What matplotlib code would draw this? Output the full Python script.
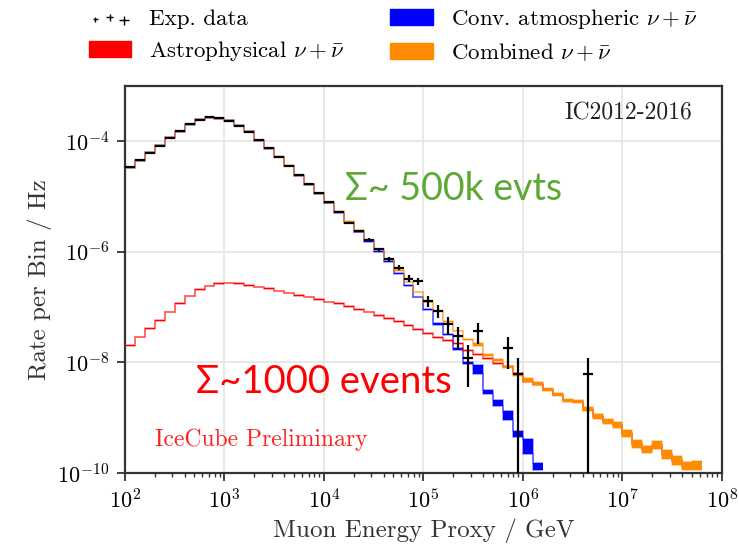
import numpy as np
import matplotlib.pyplot as plt
from matplotlib.patches import Patch
from matplotlib.legend_handler import HandlerPathCollection
from matplotlib.ticker import LogLocator, NullLocator

plt.rcParams['font.family'] = 'serif'
plt.rcParams['font.serif'] = ['cmr10']
plt.rcParams['mathtext.fontset'] = 'cm'
plt.rcParams['axes.formatter.use_mathtext'] = True

# energy proxy binning: 10 bins per decade, 1e2 .. 10^7.8 GeV
bin_edges = np.logspace(2, 7.8, 59)

livetime = 1.64e8  # s

# observed events per bin (0 = empty bin)
exp_counts = [5519, 7479, 10158, 13610, 19010, 25110, 33640, 40260, 44450, 42540,
              38620, 31320, 24420, 17250, 12190, 8607, 5914, 4007, 2753, 1866,
              1282, 881, 548, 392, 274, 183, 124, 85, 54, 48,
              21, 14, 8, 5, 2, 6, 0, 0, 3, 1,
              0, 0, 0, 0, 0, 0, 1, 0, 0, 0,
              0, 0, 0, 0, 0, 0, 0, 0]

# MC expectations, log10(rate / Hz), and half width of the band in decades
conv_log = [-4.474, -4.342, -4.209, -4.082, -3.937, -3.816, -3.689, -3.611, -3.568, -3.587,
            -3.629, -3.720, -3.828, -3.980, -4.131, -4.283, -4.447, -4.617, -4.781, -4.950,
            -5.115, -5.281, -5.470, -5.640, -5.808, -5.990, -6.180, -6.393, -6.605, -6.817,
            -7.045, -7.299, -7.493, -7.752, -8.010, -8.130, -8.531, -8.731, -8.960, -9.290,
            -9.516, -9.884]
conv_unc = [0.008] * 30 + [0.015] * 5 + [0.075, 0.035, 0.06, 0.075, 0.05, 0.14, 0.06]

astro_log = [-7.692, -7.541, -7.390, -7.239, -7.089, -6.937, -6.799, -6.683, -6.618, -6.575,
             -6.563, -6.575, -6.605, -6.636, -6.665, -6.708, -6.744, -6.786, -6.817, -6.859,
             -6.905, -6.930, -6.990, -7.045, -7.089, -7.149, -7.208, -7.257, -7.330, -7.408,
             -7.480, -7.545, -7.600, -7.660, -7.780, -7.860, -7.930, -8.020, -8.070, -8.200,
             -8.350, -8.400, -8.500, -8.590, -8.690, -8.710, -8.850, -8.975, -9.070, -9.130,
             -9.280, -9.475, -9.580, -9.500, -9.670, -9.775, -9.878, -9.866]
astro_unc = [0.006] * 58

comb_log = [-4.473, -4.341, -4.208, -4.081, -3.936, -3.815, -3.688, -3.610, -3.567, -3.586,
            -3.628, -3.719, -3.827, -3.978, -4.129, -4.280, -4.443, -4.612, -4.775, -4.944,
            -5.107, -5.270, -5.455, -5.621, -5.785, -5.960, -6.140, -6.340, -6.545, -6.726,
            -6.906, -7.070, -7.257, -7.431, -7.589, -7.680, -7.861, -7.951, -8.084, -8.217,
            -8.320, -8.386, -8.489, -8.580, -8.688, -8.707, -8.846, -8.973, -9.069, -9.129,
            -9.280, -9.475, -9.580, -9.500, -9.670, -9.775, -9.878, -9.866]
comb_unc = ([0.008] * 35 + [0.03] + [0.02] * 4 + [0.03] * 6 +
            [0.035, 0.045, 0.045, 0.05, 0.06, 0.065, 0.06, 0.07, 0.085, 0.075, 0.075, 0.085])

c_conv = '#0000ff'
c_astro = '#ff0000'
c_comb = '#ff8c00'


def draw_band(ax, lograte, halfwidth, color, z):
    mid = np.asarray(lograte)
    w = np.asarray(halfwidth)
    lo = 10 ** (mid - w)
    hi = 10 ** (mid + w)
    e = bin_edges[:len(mid) + 1]
    ax.stairs(hi, e, baseline=lo, fill=True, color=color, lw=0, zorder=z)
    ax.stairs(lo, e, baseline=None, color=color, alpha=0.45, lw=1.1, zorder=z)
    ax.stairs(hi, e, baseline=None, color=color, alpha=0.45, lw=1.1, zorder=z)


fig = plt.figure(figsize=(7.39, 5.5), dpi=100)
ax = fig.add_axes([0.169, 0.14, 0.808, 0.7036])

draw_band(ax, conv_log, conv_unc, c_conv, 2)
draw_band(ax, astro_log, astro_unc, c_astro, 3)
draw_band(ax, comb_log, comb_unc, c_comb, 4)

# data with poisson errors
counts = np.asarray(exp_counts, dtype=float)
has = counts > 0
rate = counts / livetime
err = np.sqrt(counts) / livetime
err_lo = np.minimum(err, 0.999 * rate)
centers = np.sqrt(bin_edges[:-1] * bin_edges[1:])
xlo = centers - bin_edges[:-1]
xhi = bin_edges[1:] - centers
ax.errorbar(centers[has], rate[has], xerr=[xlo[has], xhi[has]],
            yerr=[err_lo[has], err[has]], fmt='none', ecolor='k',
            elinewidth=1.6, zorder=6)

exp_handle = ax.scatter([np.nan] * 3, [np.nan] * 3, s=[20, 35, 60],
                        marker='+', c='k', linewidths=1)

ax.set_xscale('log')
ax.set_yscale('log')
ax.set_xlim(1e2, 1e8)
ax.set_ylim(1e-10, 1e-3)
ax.xaxis.set_major_locator(LogLocator(base=10, numticks=20))
ax.xaxis.set_minor_locator(LogLocator(base=10, subs=np.arange(2, 10), numticks=100))
ax.set_yticks([1e-10, 1e-8, 1e-6, 1e-4])
ax.yaxis.set_minor_locator(NullLocator())

ax.grid(True, which='major', color='#e6e6e6', lw=1.3)
ax.set_axisbelow(True)
for s in ax.spines.values():
    s.set_color('#333333')
    s.set_linewidth(1.6)
ax.tick_params(which='major', direction='out', length=6, width=1.3,
               color='#333333', labelsize=16, pad=5)
ax.tick_params(which='minor', direction='out', length=3, width=1.0, color='#333333')

ax.set_xlabel('Muon Energy Proxy / GeV', fontsize=18, color='#333333')
ax.set_ylabel('Rate per Bin / Hz', fontsize=18, color='#333333')

ax.text(0.95, 0.93, 'IC2012-2016', transform=ax.transAxes, ha='right',
        va='center', fontsize=17, color='#222222')
ax.text(0.05, 0.085, 'IceCube Preliminary', transform=ax.transAxes, ha='left',
        va='center', fontsize=17, color='#ff2222')

fig.text(345 / 739, 1 - 200 / 550, '\u03a3~ 500k evts', family='Lato',
         fontsize=27, color='#5ca935', va='baseline')
fig.text(196 / 739, 1 - 393 / 550, '\u03a3~1000 events', family='Lato',
         fontsize=27.5, color='#ff0000', va='baseline')

handles = [exp_handle,
           Patch(facecolor=c_astro, edgecolor=c_astro),
           Patch(facecolor=c_conv, edgecolor=c_conv),
           Patch(facecolor=c_comb, edgecolor=c_comb)]
labels = ['Exp. data', r'Astrophysical $\nu + \bar{\nu}$',
          r'Conv. atmospheric $\nu + \bar{\nu}$', r'Combined $\nu + \bar{\nu}$']
fig.legend(handles, labels, ncol=2, loc='upper left', bbox_to_anchor=(0.092, 1.024),
           frameon=False, fontsize=16.5, handlelength=1.85, scatterpoints=3,
           columnspacing=2.0, labelspacing=0.42, handletextpad=0.8,
           handler_map={exp_handle: HandlerPathCollection(sizes=[15, 28, 45])})

fig.savefig('out.png', dpi=100)
